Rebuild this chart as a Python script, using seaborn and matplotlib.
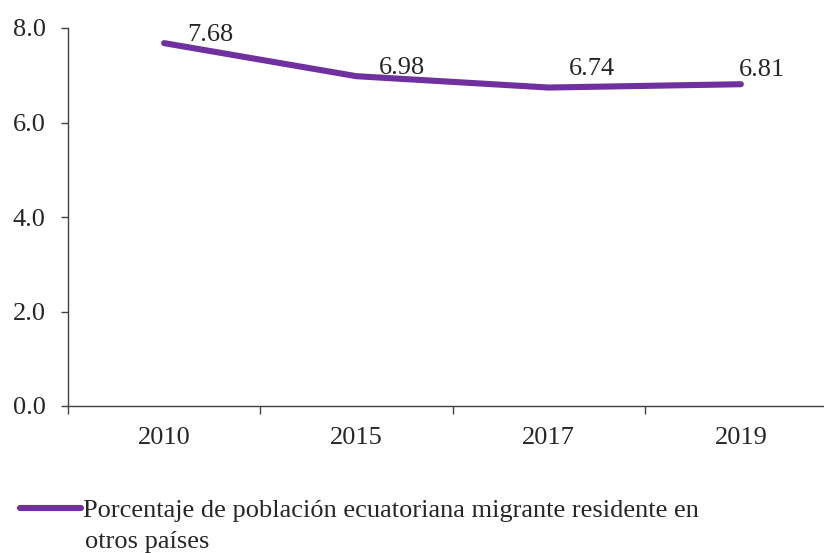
import matplotlib
matplotlib.use('Agg')
import matplotlib.pyplot as plt
import seaborn as sns
import pandas as pd
from matplotlib.ticker import FixedLocator, FormatStrFormatter

# datos del gráfico
anios = ['2010', '2015', '2017', '2019']
porcentaje = [7.68, 6.98, 6.74, 6.81]
serie = 'Porcentaje de población ecuatoriana migrante residente en'
serie_linea2 = 'otros países'

df = pd.DataFrame({'anio': anios, 'valor': porcentaje})

sns.set_style('white')
plt.rcParams['font.family'] = ['Liberation Serif', 'DejaVu Serif']
fs = 19

color = '#7030A0'
fig = plt.figure(figsize=(8.24, 5.53), dpi=100)
ax = fig.add_axes([68 / 824, 1 - 406 / 553, (837 - 68) / 824, (406 - 28) / 553])

sns.lineplot(data=df, x='anio', y='valor', ax=ax, color=color, linewidth=4.4,
             solid_capstyle='round', label=serie)

# etiquetas de datos
offsets = [(33, 6), (33, 6), (31, 13), (15, 10)]
for i, (v, off) in enumerate(zip(porcentaje, offsets)):
    ax.annotate(f'{v:.2f}', (i, v), xytext=off, textcoords='offset points',
                ha='center', va='center', fontsize=fs)

ax.set_xlim(-0.5, len(anios) - 0.5)
ax.set_ylim(0, 8)
ax.set_yticks([0, 2, 4, 6, 8])
ax.yaxis.set_major_formatter(FormatStrFormatter('%.1f'))
ax.xaxis.set_minor_locator(FixedLocator([i - 0.5 for i in range(len(anios) + 1)]))
ax.tick_params(axis='x', which='major', length=0, pad=15, labelsize=fs)
ax.tick_params(axis='x', which='minor', length=6, width=1, color='#404040', direction='out', bottom=True)
ax.tick_params(axis='y', length=5, width=1, color='#404040', direction='out', left=True, labelsize=fs, pad=11)
ax.set_xlabel('')
ax.set_ylabel('')
for s in ['top', 'right']:
    ax.spines[s].set_visible(False)
for s in ['left', 'bottom']:
    ax.spines[s].set_color('#404040')
    ax.spines[s].set_linewidth(1)

leg = ax.legend(loc='upper left', bbox_to_anchor=(20 / 824, 1 - 499 / 553), bbox_transform=fig.transFigure,
                frameon=False, fontsize=fs, handlelength=2.3, handletextpad=0.1, borderpad=0, borderaxespad=0)
fig.text(85 / 824, 1 - 548 / 553, serie_linea2, fontsize=fs, va='baseline', ha='left')

plt.savefig('out.png', dpi=100)
